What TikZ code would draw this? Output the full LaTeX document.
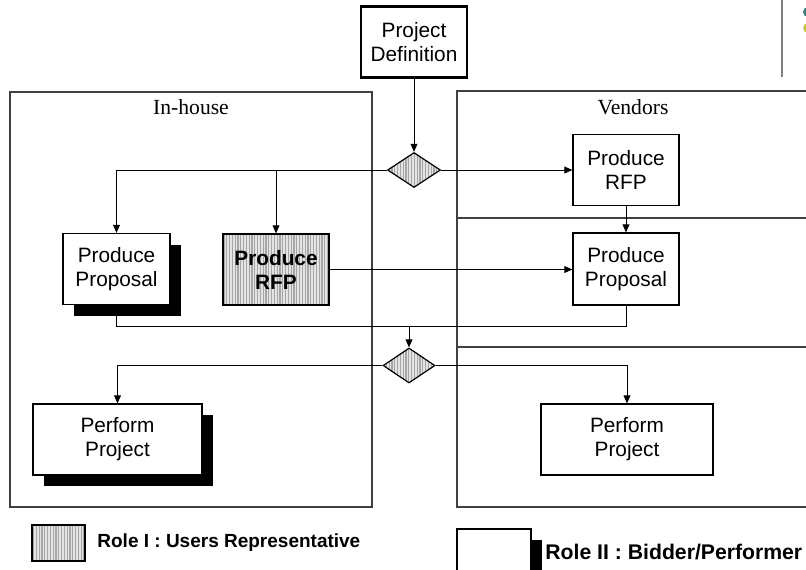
\documentclass[tikz,border=0pt]{standalone}
\usepackage{fontspec}
\setmainfont{Liberation Sans}
\newfontfamily\lanefont{Liberation Serif}
\usetikzlibrary{shapes.geometric,arrows.meta,patterns.meta,shadows,positioning}

\begin{document}
\begin{tikzpicture}[
    x=0.5pt, y=-0.5pt,
    box/.style={draw, fill=white, line width=0.6pt, minimum width=53pt, minimum height=35.5pt, inner sep=1pt, align=center, font=\fontsize{10.4}{12}\selectfont},
    shadowed/.style={drop shadow={shadow xshift=5.5pt, shadow yshift=-5.5pt, fill=black, opacity=1}},
    hatched/.style={draw, preaction={fill=gray!22}, pattern={Lines[angle=90,distance=1.4pt,line width=0.55pt]}, pattern color=gray!70},
    choice/.style={diamond, hatched, line width=0.6pt, inner sep=0pt, minimum width=26.5pt, minimum height=17.5pt},
    lane/.style={draw=black!75, line width=0.6pt},
    link/.style={-{Triangle[length=4pt,width=3.4pt]}, line width=0.5pt},
    keytext/.style={anchor=west, inner sep=0pt, font=\fontsize{9.5}{11}\selectfont\bfseries}
]
    \useasboundingbox (0,0) rectangle (806,569);
    \clip (0,0) rectangle (806,569);

    \draw[draw=gray, line width=0.8pt] (782,0) -- (782,77);
    \fill[teal!60!gray] (808,12) circle (5);
    \fill[yellow!80!black] (808,28) circle (5);

    \draw[lane] (10,92) rectangle (372,507);
    \draw[lane] (457,91) rectangle (830,507);
    \draw[lane] (457,218) -- (830,218);
    \draw[lane] (457,347) -- (830,347);
    \node[font=\lanefont\fontsize{10.8}{12}\selectfont] (inhouse) at (191,107) {In-house};
    \node[font=\lanefont\fontsize{10.8}{12}\selectfont] (vendors) at (633,107) {Vendors};

    \node[box, line width=1.1pt] (def) at (414,42) {Project\\Definition};
    \node[choice] (d1) at (414,170) {};
    \node[box] (vrfp) at (626,170) {Produce\\RFP};
    \node[box, minimum height=36pt] (vprop) at (626,269) {Produce\\Proposal};
    \node[box, shadowed, minimum width=53.5pt] (hprop) at (116.5,269) {Produce\\Proposal};
    \node[box, hatched, font=\fontsize{10.4}{12}\selectfont\bfseries] (hrfp) at (276,269.5) {Produce\\RFP};
    \coordinate (join) at (409,326);
    \node[choice, minimum width=26pt] (d2) at (409,365.5) {};
    \node[box, shadowed, minimum width=84.5pt] (hperf) at (117.5,439.5) {Perform\\Project};
    \node[box, minimum width=86pt] (vperf) at (627,439.5) {Perform\\Project};

    \draw[link] (def) -- (d1);
    \draw[link] (d1.west) -| (hprop.north);
    \draw[link] (hrfp.north |- d1.west) -- (hrfp.north);
    \draw[link] (d1.east) -- (vrfp.west);
    \draw[link] (vrfp) -- (vprop);
    \draw[link] (hrfp.east) -- (vprop.west |- hrfp.east);
    \draw[line width=0.5pt] (hprop.south) |- (join) -| (vprop.south);
    \draw[link] (join) -- (d2.north);
    \draw[link] (d2.west) -| (hperf.north);
    \draw[link] (d2.east) -| (vperf.north);

    \node[hatched, line width=0.6pt, minimum width=26.5pt, minimum height=18pt] (key1) at (58.5,543) {};
    \node[keytext] (key1text) at (97,543) {Role I : Users Representative};
    \node[box, shadowed, minimum width=37pt, minimum height=31pt] (key2) at (494,560) {};
    \node[keytext, font=\fontsize{10.6}{12}\selectfont\bfseries] (key2text) at (545,552) {Role II : Bidder/Performer};
\end{tikzpicture}
\end{document}
